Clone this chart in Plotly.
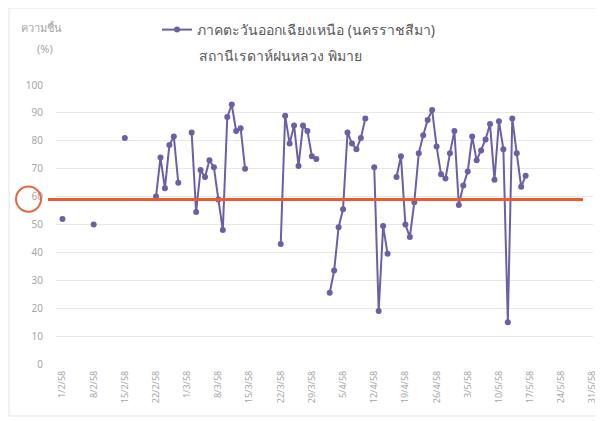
import plotly.graph_objects as go
from datetime import date, timedelta

# ---- data ----
obs_dates = [
    "2015-02-01", "2015-02-08", "2015-02-15",
    "2015-02-22", "2015-02-23", "2015-02-24", "2015-02-25", "2015-02-26", "2015-02-27",
    "2015-03-02", "2015-03-03", "2015-03-04", "2015-03-05", "2015-03-06", "2015-03-07",
    "2015-03-08", "2015-03-09", "2015-03-10", "2015-03-11", "2015-03-12", "2015-03-13",
    "2015-03-14",
    "2015-03-22", "2015-03-23", "2015-03-24", "2015-03-25", "2015-03-26", "2015-03-27",
    "2015-03-28", "2015-03-29", "2015-03-30",
    "2015-04-02", "2015-04-03", "2015-04-04", "2015-04-05", "2015-04-06", "2015-04-07",
    "2015-04-08", "2015-04-09", "2015-04-10",
    "2015-04-12", "2015-04-13", "2015-04-14", "2015-04-15",
    "2015-04-17", "2015-04-18", "2015-04-19", "2015-04-20", "2015-04-21", "2015-04-22",
    "2015-04-23", "2015-04-24", "2015-04-25", "2015-04-26", "2015-04-27", "2015-04-28",
    "2015-04-29", "2015-04-30", "2015-05-01", "2015-05-02", "2015-05-03", "2015-05-04",
    "2015-05-05", "2015-05-06", "2015-05-07", "2015-05-08", "2015-05-09", "2015-05-10",
    "2015-05-11", "2015-05-12", "2015-05-13", "2015-05-14", "2015-05-15", "2015-05-16",
]
humidity = [
    52, 50, 81,
    60, 74, 63, 78.5, 81.5, 65,
    83, 54.5, 69.5, 67, 73, 70.5,
    59, 48, 88.5, 93, 83.5, 84.5,
    70,
    43, 89, 79, 85.5, 71, 85.5,
    83.5, 74.5, 73.5,
    25.5, 33.5, 49, 55.5, 83, 79,
    77, 81, 88,
    70.5, 19, 49.5, 39.5,
    67, 74.5, 50, 45.5, 58, 75.5,
    82, 87.5, 91, 78, 68, 66.5,
    75.5, 83.5, 57, 64, 69, 81.5,
    73, 76.5, 80.5, 86, 66, 87,
    77, 15, 88, 75.5, 63.5, 67.5,
]
tick_dates = [
    "2015-02-01", "2015-02-08", "2015-02-15", "2015-02-22", "2015-03-01", "2015-03-08",
    "2015-03-15", "2015-03-22", "2015-03-29", "2015-04-05", "2015-04-12", "2015-04-19",
    "2015-04-26", "2015-05-03", "2015-05-10", "2015-05-17", "2015-05-24", "2015-05-31",
]
tick_labels = [
    "1/2/58", "8/2/58", "15/2/58", "22/2/58", "1/3/58", "8/3/58",
    "15/3/58", "22/3/58", "29/3/58", "5/4/58", "12/4/58", "19/4/58",
    "26/4/58", "3/5/58", "10/5/58", "17/5/58", "24/5/58", "31/5/58",
]
threshold = 59

# insert gaps (missing days) so the line breaks as in the reference
xs, ys = [], []
prev = None
for d, v in zip(obs_dates, humidity):
    cur = date.fromisoformat(d)
    if prev is not None and (cur - prev).days > 1:
        xs.append((prev + timedelta(days=1)).isoformat())
        ys.append(None)
    xs.append(d)
    ys.append(v)
    prev = cur

# the page body has an 8px margin, so the figure is laid out in page pixels minus 8
OFF = 8
W, H = 603 - OFF, 421 - OFF
PL, PR, PT, PB = 56, 593, 85, 364          # plot area in page pixels
L, R, T, B = PL - OFF, (603 - PR), PT - OFF, H - (PB - OFF)
pw, ph = W - L - R, H - T - B

def px_x(x):
    return (x - OFF - L) / pw

def px_y(y):
    return (H - B - (y - OFF)) / ph

purple = "#6E5EA6"
font_fam = "Noto Sans, DejaVu Sans, sans-serif"

fig = go.Figure()
fig.add_trace(go.Scatter(
    x=xs, y=ys, mode="lines+markers", connectgaps=False,
    name="ภาคตะวันออกเฉียงเหนือ (นครราชสีมา)",
    line=dict(color=purple, width=2),
    marker=dict(color=purple, size=6),
))

fig.update_layout(
    width=W, height=H,
    margin=dict(l=L, r=R, t=T, b=B, autoexpand=False),
    paper_bgcolor="white", plot_bgcolor="white",
    font=dict(family=font_fam, color="#8c8c8c"),
    showlegend=True,
    legend=dict(
        x=px_x(157), xanchor="left", y=px_y(14), yanchor="top",
        font=dict(size=14, color="#595959"),
        bgcolor="rgba(0,0,0,0)", itemwidth=30,
    ),
    xaxis=dict(
        type="date", automargin=False,
        range=["2015-01-30 13:00", "2015-05-31 03:00"],
        tickvals=tick_dates, ticktext=tick_labels,
        tickangle=-90, tickfont=dict(size=9, color="#a6a6a6"),
        showgrid=False, zeroline=False, showline=False,
        ticklabelstandoff=4,
    ),
    yaxis=dict(
        range=[0, 100], dtick=10, automargin=False,
        tickfont=dict(size=10, color="#a6a6a6"),
        showgrid=True, gridcolor="#e8e8e8", gridwidth=1,
        zeroline=False, showline=False,
        ticklabelstandoff=12,
    ),
    shapes=[
        dict(type="rect", xref="paper", yref="paper",
             x0=px_x(9), x1=px_x(598), y0=px_y(416), y1=px_y(8),
             line=dict(color="#e3e3e3", width=1), layer="below"),
        dict(type="line", xref="paper", yref="y",
             x0=px_x(48), x1=px_x(583), y0=threshold, y1=threshold,
             line=dict(color="#EE5A2A", width=3)),
        dict(type="circle", xref="paper", yref="y",
             x0=px_x(16), x1=px_x(41), y0=threshold - 4.4, y1=threshold + 4.6,
             line=dict(color="#E4683E", width=2)),
    ],
    annotations=[
        dict(text="ความชื้น", xref="paper", yref="paper", x=px_x(41), y=px_y(28),
             xanchor="center", yanchor="middle", showarrow=False,
             font=dict(size=11, color="#a6a6a6")),
        dict(text="(%)", xref="paper", yref="paper", x=px_x(45), y=px_y(49),
             xanchor="center", yanchor="middle", showarrow=False,
             font=dict(size=11, color="#a6a6a6")),
        dict(text="สถานีเรดาห์ฝนหลวง พิมาย", xref="paper", yref="paper",
             x=px_x(197), y=px_y(55), xanchor="left", yanchor="middle",
             showarrow=False, font=dict(size=14, color="#595959")),
    ],
)

fig.write_html("out.html")
